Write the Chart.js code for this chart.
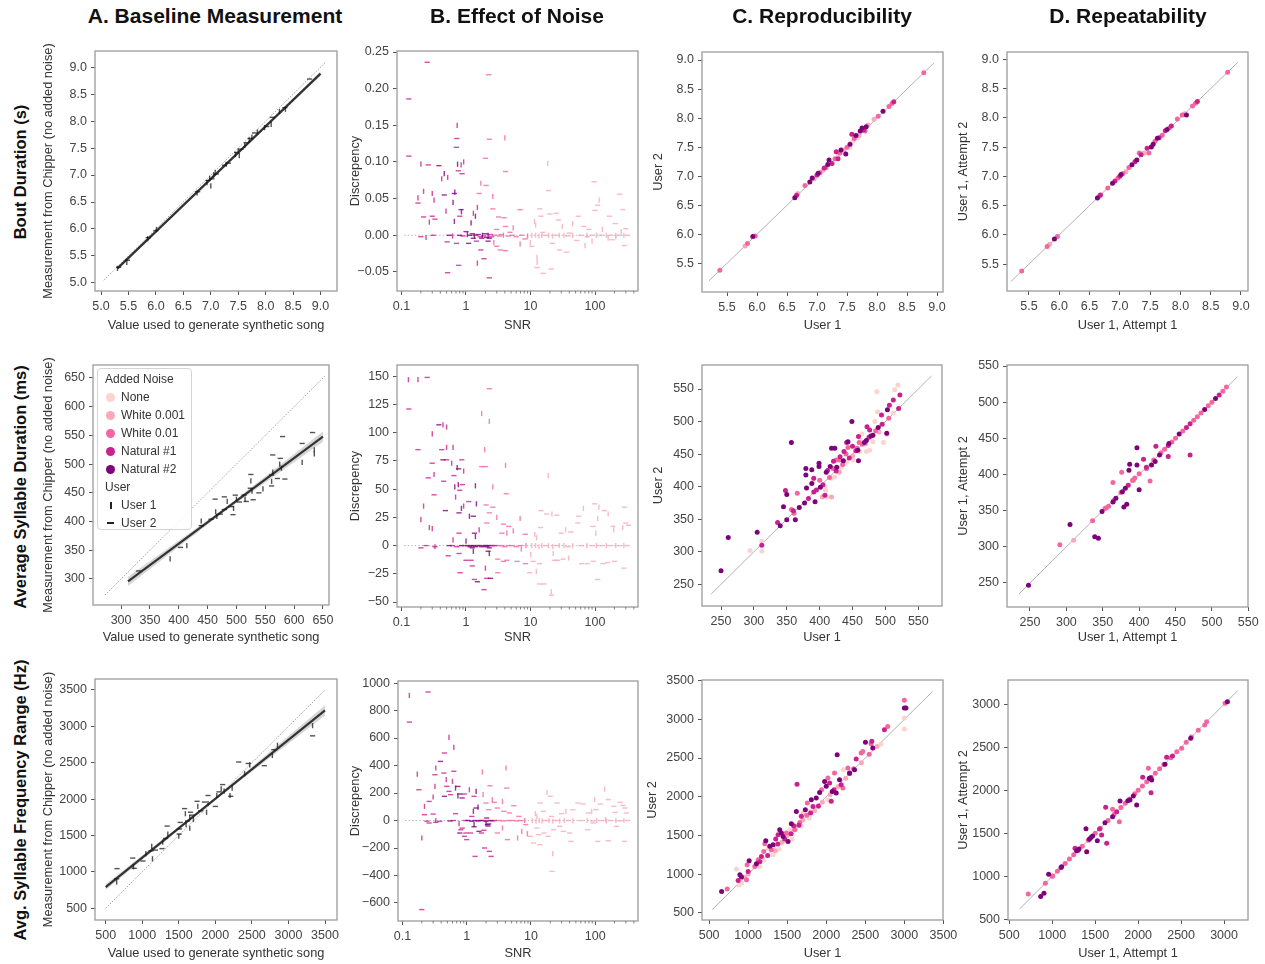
<!DOCTYPE html>
<html>
<head>
<meta charset="utf-8">
<title>Chipper validation</title>
<script src="https://cdn.jsdelivr.net/npm/chart.js@4.4.1/dist/chart.umd.min.js"></script>
<style>
  body { margin:0; width:1265px; height:964px; position:relative; overflow:hidden; background:#fff;
         font-family:"Liberation Sans", Arial, sans-serif; }
  canvas { position:absolute; }
  .colTitle { position:absolute; top:5px; font-size:21px; font-weight:bold; color:#111; line-height:22px;
              transform:translateX(-50%); white-space:nowrap; }
  .rowTitle { position:absolute; font-size:16.5px; font-weight:bold; color:#111; line-height:18px; white-space:nowrap;
              transform:translate(-50%,-50%) rotate(-90deg); }
  #legend { position:absolute; left:97px; top:368px; width:95px; height:162px; box-sizing:border-box;
            border:1px solid #d4d4d4; border-radius:4px; background:rgba(255,255,255,0.85);
            font-size:12px; color:#333; z-index:5; padding-top:1px; }
  #legend .h { height:18px; line-height:18px; padding-left:7px; }
  #legend .i { height:18px; line-height:18px; padding-left:23px; position:relative; }
  #legend .dot { position:absolute; left:8px; top:4.5px; width:9px; height:9px; border-radius:50%; }
  #legend .u1 { position:absolute; left:11.5px; top:5.5px; width:2px; height:7px; background:#222; }
  #legend .u2 { position:absolute; left:9px; top:8px; width:7px; height:2px; background:#222; }
</style>
</head>
<body>
<div id="legend"></div>
<script>
Chart.defaults.font.family = '"Liberation Sans", Arial, sans-serif';
Chart.defaults.font.size = 12;
Chart.defaults.color = '#444';

// ---- categories ----
const colTitles = ['A. Baseline Measurement', 'B. Effect of Noise', 'C. Reproducibility', 'D. Repeatability'];
const rowTitles = ['Bout Duration (s)', 'Average Syllable Duration (ms)', 'Avg. Syllable Frequency Range (Hz)'];
const noiseNames = ['None', 'White 0.001', 'White 0.01', 'Natural #1', 'Natural #2'];
const noiseColors = ['#fcd3cf', '#f9a9b9', '#f466a0', '#c9218d', '#7e037b'];
const userNames = ['User 1', 'User 2'];

// ---- tick labels ----
const boutTicks = [5.0, 5.5, 6.0, 6.5, 7.0, 7.5, 8.0, 8.5, 9.0];
const boutReproTicks = [5.5, 6.0, 6.5, 7.0, 7.5, 8.0, 8.5, 9.0];
const boutDiscTicks = [-0.05, 0.00, 0.05, 0.10, 0.15, 0.20, 0.25];
const durTicks = [300, 350, 400, 450, 500, 550, 600, 650];
const durReproTicks = [250, 300, 350, 400, 450, 500, 550];
const durDiscTicks = [-50, -25, 0, 25, 50, 75, 100, 125, 150];
const freqTicks = [500, 1000, 1500, 2000, 2500, 3000, 3500];
const freqRepeatTicks = [500, 1000, 1500, 2000, 2500, 3000];
const freqDiscTicks = [-600, -400, -200, 0, 200, 400, 600, 800, 1000];
const snrTicks = [0.1, 1, 10, 100];
const snrMinor = [0.2, 0.3, 0.4, 0.5, 0.6, 0.7, 0.8, 0.9, 2, 3, 4, 5, 6, 7, 8, 9,
                  20, 30, 40, 50, 60, 70, 80, 90, 200, 300, 400];

// ---- A: baseline [true value, measured, user] ----
const boutBase = [[5.30,5.27,1],[5.32,5.29,2],[5.47,5.38,1],[5.48,5.42,2],[5.85,5.82,1],[5.86,5.84,2],[6.00,5.97,2],
  [6.01,5.99,1],[6.75,6.67,1],[6.76,6.69,2],[6.93,6.86,1],[6.95,6.90,2],[7.00,6.80,1],[6.98,6.94,1],[7.02,6.93,2],
  [7.05,7.00,1],[7.10,7.02,2],[7.08,7.05,1],[7.25,7.18,2],[7.28,7.20,1],[7.32,7.22,2],[7.45,7.38,1],[7.47,7.42,2],
  [7.50,7.45,1],[7.55,7.48,2],[7.52,7.36,1],[7.62,7.55,1],[7.65,7.60,2],[7.70,7.65,1],[7.72,7.68,2],[7.75,7.70,1],
  [7.80,7.78,2],[7.85,7.80,1],[7.98,7.88,1],[8.02,7.90,2],[8.10,7.94,1],[8.12,8.07,2],[8.25,8.18,1],[8.35,8.25,2],
  [8.36,8.22,1],[8.80,8.78,2]];
const durBase = [[330,314,2],[385,335,1],[403,355,2],[414,358,1],[439,393,2],[439,401,1],[456,404,2],[464,417,1],
  [463,439,2],[466,409,1],[472,413,2],[479,421,2],[479,443,2],[484,435,1],[491,426,2],[494,412,2],[495,423,1],
  [498,446,2],[500,439,1],[505,434,2],[513,446,2],[515,439,1],[517,435,2],[524,458,2],[525,471,1],[525,482,2],
  [527,453,1],[529,438,2],[539,450,2],[546,457,1],[561,481,2],[563,486,1],[563,516,2],[561,470,1],[561,462,2],
  [571,475,2],[575,500,1],[576,510,2],[578,493,1],[580,548,2],[584,474,2],[614,536,2],[614,503,1],[632,555,2],
  [635,525,1],[635,518,1]];
const freqBase = [[650,860,1],[650,905,2],[655,1045,2],[870,1190,2],[880,1070,1],[890,1050,2],[1010,1150,2],
  [1050,1250,1],[1120,1290,2],[1130,1350,1],[1140,1180,1],[1180,1300,2],[1270,1320,2],[1280,1410,1],[1320,1460,2],
  [1340,1630,2],[1350,1520,1],[1500,1490,1],[1505,1520,2],[1510,1590,2],[1520,1680,2],[1580,1870,2],[1590,1800,1],
  [1600,1650,1],[1620,1700,2],[1650,1750,1],[1650,1600,1],[1660,1820,2],[1680,1780,2],[1700,1720,1],[1750,1970,2],
  [1760,1900,1],[1800,1840,2],[1850,1960,2],[1880,1820,1],[1900,2050,2],[1900,1940,1],[2000,1900,2],[2020,2050,1],
  [2050,2100,2],[2080,2140,1],[2100,2200,2],[2120,2110,1],[2200,2050,1],[2210,2040,2],[2230,2150,1],[2320,2510,2],
  [2400,2350,1],[2450,2490,2],[2470,2470,1],[2670,2460,2],[2780,2600,1],[2800,2680,2],[2850,2740,1],[3330,2870,2],
  [3330,3010,1]];

// regression fits, confidence bands and identity lines
const boutFit = [[5.3,5.27],[9.0,8.88]];
const boutBandHi = [[5.3,5.30],[7.2,7.13],[9.0,8.92]];
const boutBandLo = [[5.3,5.24],[7.2,7.10],[9.0,8.84]];
const boutIdent = [[5.05,5.05],[9.1,9.1]];
const durFit = [[312,296],[650,548]];
const durBandHi = [[312,304],[480,424],[650,557]];
const durBandLo = [[312,288],[480,418],[650,539]];
const durIdent = [[272,272],[653,653]];
const freqFit = [[500,790],[3500,3220]];
const freqBandHi = [[500,830],[2000,2020],[3500,3290]];
const freqBandLo = [[500,750],[2000,1990],[3500,3150]];
const freqIdent = [[500,500],[3500,3500]];
const snrZero = [[0.11,0],[330,0]];

// ---- B: effect of noise [SNR, discrepancy, noise index, user] ----
const boutNoise = [
  [0.13,0.186,3,2],[0.13,0.108,3,2],[0.25,0.236,3,2],[0.2,0.097,3,1],[0.26,0.096,3,2],[0.38,0.095,4,2],[0.18,0.044,3,2],
  [0.18,0.051,3,1],[0.22,0.06,3,1],[0.22,0.025,3,2],[0.3,0.057,3,1],[0.32,0.048,3,1],[0.3,0.026,3,2],[0.27,0.018,3,1],
  [0.33,0.022,3,2],[0.42,0.077,3,1],[0.46,0.084,4,1],[0.52,0.079,3,1],[0.46,0.055,4,2],[0.49,0.033,3,1],[0.66,0.057,4,2],
  [0.67,0.059,4,1],[0.63,0.045,4,1],[0.73,0.15,3,1],[0.72,0.132,3,2],[0.71,0.12,3,2],[0.74,0.097,4,1],[0.76,0.088,3,2],
  [0.84,0.096,3,1],[0.87,0.084,3,2],[0.92,0.1,3,1],[0.66,0.019,4,1],[0.8,0.026,3,2],[0.84,0.035,4,2],[0.85,0.032,4,1],
  [0.71,-0.011,3,2],[0.51,-0.009,3,2],[0.52,-0.051,3,2],[0.77,-0.041,3,2],[1.0,0.005,4,2],[1.3,0.03,3,1],[1.4,0.026,4,1],
  [1.5,0.038,3,1],[1.2,0.017,4,1],[1.1,-0.011,4,2],[1.45,-0.008,3,2],[1.7,-0.02,3,2],[1.5,-0.038,3,1],[1.9,-0.032,3,2],
  [2.3,-0.058,3,2],[1.75,-0.004,4,2],[2.2,-0.008,4,2],[1.3,-0.004,4,2],
  [0.2,-0.002,3,2],[0.24,-0.003,3,1],[0.31,0.0,3,2],[0.55,0.0,4,2],[0.62,-0.001,3,1],[0.8,0.0,4,2],[0.9,-0.001,3,2],
  [1.05,0.001,4,1],[1.15,0.0,4,2],[1.25,0.002,4,2],[1.35,-0.001,4,1],[1.4,0.0,3,2],[1.55,0.001,4,2],[1.65,-0.002,3,2],
  [1.8,0.0,4,1],[1.9,-0.001,3,2],[2.0,0.002,4,2],[2.1,-0.003,4,2],[2.2,0.0,4,1],[2.3,-0.004,4,2],[2.4,0.001,3,2],[2.5,-0.002,3,2],
  [2.25,0.219,2,2],[2.3,0.131,2,2],[2.0,0.105,2,2],[4.0,0.133,2,1],[4.1,0.087,2,2],[1.7,0.071,2,1],[2.05,0.068,2,2],
  [2.6,0.053,2,1],[2.6,0.036,2,2],[1.6,0.057,2,2],[3.2,0.025,2,2],[3.9,0.024,2,2],[3.0,0.008,2,2],[3.5,0.001,2,2],
  [4.1,0.012,2,2],[4.8,0.004,2,2],[5.4,0.01,2,1],[6.9,0.035,2,2],[7.3,0.0,2,2],[8.2,-0.005,2,2],[6.9,-0.012,2,1],
  [3.0,-0.015,2,2],[3.4,-0.02,2,2],[4.1,-0.021,2,2],[2.7,-0.01,2,1],[2.8,0.0,2,2],[3.3,-0.001,2,2],[3.8,0.0,2,1],
  [4.5,-0.001,2,2],[5.2,0.0,2,2],[6.0,-0.002,2,2],[9.0,-0.001,2,1],
  [13.9,0.036,1,2],[19,0.061,1,2],[18.5,0.098,1,1],[14.5,0.026,1,2],[11.5,0.019,1,1],[12,0.014,1,1],[15.6,0.004,1,2],
  [20,0.029,1,2],[25,0.03,1,2],[27,0.021,1,2],[31,0.012,1,1],[10.5,-0.015,1,2],[9.9,-0.01,1,1],[12.6,-0.03,1,1],
  [12.7,-0.037,1,1],[12.6,-0.044,1,2],[15.7,-0.052,1,2],[21,-0.046,1,2],[21.8,-0.011,1,2],[28,-0.02,1,2],[36,-0.023,1,2],
  [40,0.003,1,2],[55,0.026,1,2],[67,0.012,1,2],[80,0.008,1,2],[97,0.073,1,2],[116,0.048,1,1],[110,0.041,1,2],
  [100,0.034,1,2],[130,0.008,1,1],[167,0.026,1,2],[206,0.016,1,2],[240,0.056,1,2],[270,0.035,1,2],[300,0.009,1,2],
  [285,-0.014,1,2],[184,-0.006,1,2],[76,-0.002,1,2],[52,-0.007,1,2],[70,-0.014,1,1],[160,-0.004,1,1],[210,-0.002,1,1],
  [45,0.016,1,1],[255,0.005,1,1],[90,-0.008,1,1],
  [10.5,0,1,1],[12,0,1,1],[13.5,-0.001,1,1],[15,0,1,1],[17,0,1,2],[19,0,1,1],[22,-0.001,1,1],[25,0,1,2],[28,0,1,1],
  [33,0,1,1],[38,-0.001,1,2],[45,0,1,1],[60,0,1,2],[75,0,1,1],[90,0,1,2],[105,0,1,1],[125,0,1,2],[150,0,1,1],
  [175,0,1,2],[210,0,1,1],[240,0,1,2],[280,0,1,1],[320,0,1,2]];
const durNoise = [
  [0.128,147,3,1],[0.18,147,3,1],[0.25,149,3,2],[0.13,121,3,2],[0.18,85,3,2],[0.2,23,3,1],[0.2,-2,3,2],[0.22,35,3,1],
  [0.26,60,3,2],[0.27,16,3,1],[0.3,99,3,1],[0.3,73,3,2],[0.32,63,3,1],[0.32,45,3,2],[0.3,15,3,1],[0.33,-1,3,2],
  [0.38,107,4,2],[0.44,107,3,1],[0.5,105,3,1],[0.42,85,3,2],[0.5,87,3,1],[0.44,76,4,2],[0.5,76,3,2],[0.45,57,3,2],
  [0.48,31,4,2],[0.53,-9,3,2],[0.63,87,3,1],[0.6,73,3,1],[0.65,62,3,2],[0.67,52,4,1],[0.69,43,3,1],[0.73,69,4,1],
  [0.76,54,4,1],[0.8,49,3,2],[0.77,68,4,2],[0.86,76,3,2],[0.92,66,3,1],[0.88,54,3,2],[0.78,29,4,2],[0.92,35,3,1],
  [0.85,33,4,1],[0.63,5,3,1],[0.78,11,3,2],[0.81,-24,3,2],[0.78,-7,3,2],[1.0,4,4,1],[1.1,39,3,2],[1.13,26,4,1],
  [1.3,26,4,2],[1.4,53,4,1],[1.45,37,4,1],[1.35,11,4,2],[1.4,8,4,1],[1.6,14,3,1],[1.2,-13,3,2],[1.35,-30,3,2],
  [1.5,-32,4,2],[1.0,-13,3,2],[1.25,-18,3,2],[1.9,-39,3,2],[2.1,-29,3,2],[2.4,-29,4,2],[2.0,-20,3,1],[2.2,-5,4,2],
  [2.3,-7,4,1],[1.3,-5,4,1],[1.25,-2,4,2],
  [0.24,0,3,2],[0.33,-1,3,1],[0.55,0,4,2],[0.62,0,3,2],[0.72,-1,3,2],[0.85,0,4,2],[0.95,0,3,2],[1.05,0,4,2],
  [1.15,-1,4,2],[1.2,0,4,2],[1.3,0,4,2],[1.4,-1,4,2],[1.5,0,3,2],[1.6,0,4,2],[1.75,-1,4,2],[1.85,0,3,2],[2.0,0,4,2],
  [2.1,-1,4,2],[2.2,0,4,2],[2.3,-2,4,2],[2.45,0,3,2],[2.6,0,3,2],[2.8,0,3,2],
  [2.3,139,2,2],[1.75,117,2,1],[2.3,110,2,1],[1.75,70,2,2],[2.0,70,2,2],[1.95,85,2,1],[4.1,71,2,1],[4.2,46,2,2],
  [2.6,52,2,1],[2.05,36,2,2],[2.6,34,2,2],[3.0,25,2,1],[2.3,29,2,2],[2.1,20,2,2],[3.6,11,2,2],[4.3,11,2,1],
  [3.8,19,2,2],[4.6,17,2,2],[5.4,13,2,1],[6.9,24,2,1],[8.3,10,2,2],[3.1,-12,2,2],[3.8,-14,2,2],[4.3,-13,2,2],
  [6.2,-14,2,2],[7.2,-3,2,1],[3.1,-24,2,2],[8.3,-16,2,2],[3.2,0,2,2],[3.6,0,2,2],[4.0,-1,2,2],[4.6,0,2,2],
  [5.2,0,2,2],[6.0,-1,2,2],[7.0,0,2,2],[8.5,0,2,1],
  [14.5,31,1,2],[18.8,62,1,1],[17.8,28,1,2],[21.5,28,1,1],[25.5,27,1,2],[11.7,10,1,1],[12.4,7,1,1],[14.3,16,1,2],
  [30,11,1,2],[10.1,-8,1,1],[9.7,-24,1,2],[11,-14,1,2],[13.8,-16,1,2],[12.3,-23,1,1],[13.8,-34,1,2],[16.2,-34,1,2],
  [21,-41,1,1],[21.2,-44,1,2],[23.7,-13,1,2],[26.4,-13,1,2],[32,-12,1,2],[38.9,-11,1,1],[22.5,-7,1,1],[35,14,1,1],
  [42,12,1,2],[54,20,1,2],[56,26,1,2],[66,33,1,1],[98,37,1,2],[115,34,1,1],[110,24,1,1],[93,17,1,2],[103,11,1,1],
  [140,31,1,2],[160,28,1,1],[190,17,1,2],[195,14,1,1],[270,16,1,1],[285,34,1,2],[300,20,1,2],[330,18,1,2],
  [280,-20,1,2],[133,-16,1,2],[157,-15,1,2],[76,-16,1,2],[62,-16,1,2],[94,-14,1,2],[110,-30,1,2],[200,-14,1,2],
  [10.5,0,1,1],[12,0,1,1],[13.5,-1,1,1],[15,0,1,1],[17,0,1,2],[19,0,1,1],[22,-1,1,1],[25,0,1,2],[28,0,1,1],
  [33,0,1,1],[38,-1,1,2],[45,0,1,1],[60,0,1,2],[75,0,1,1],[90,0,1,2],[105,0,1,1],[125,0,1,2],[150,0,1,1],
  [175,0,1,2],[210,0,1,1],[240,0,1,2],[280,0,1,1],[320,0,1,2]];
const freqNoise = [
  [0.128,910,3,1],[0.128,716,3,2],[0.25,935,3,2],[0.17,338,3,1],[0.18,224,3,2],[0.2,-127,3,1],[0.2,-648,3,2],
  [0.22,42,3,2],[0.22,103,3,1],[0.26,139,3,2],[0.26,-18,3,2],[0.3,47,3,2],[0.3,171,3,1],[0.32,248,3,1],[0.33,382,3,1],
  [0.32,333,3,2],[0.33,-13,3,2],[0.39,430,4,2],[0.38,-6,3,2],[0.45,491,3,2],[0.44,345,3,2],[0.48,297,3,1],
  [0.49,249,3,2],[0.45,176,4,2],[0.53,605,3,1],[0.53,212,3,2],[0.56,188,3,2],[0.63,532,3,1],[0.63,358,3,2],
  [0.6,285,3,1],[0.67,236,4,1],[0.73,248,4,2],[0.67,50,3,2],[0.73,180,4,1],[0.78,193,4,2],[0.85,164,4,2],
  [0.92,193,3,2],[0.81,-67,3,2],[0.76,-23,3,1],[0.78,-91,4,2],[0.85,-55,3,2],[0.97,-91,3,2],[1.0,-139,3,2],
  [0.92,-115,3,2],[1.1,224,3,1],[1.3,176,3,2],[1.4,212,4,1],[1.27,67,4,1],[1.4,91,4,2],[1.5,98,4,1],[1.2,30,3,2],
  [1.3,-30,4,1],[1.35,-261,3,2],[1.15,-91,3,2],[1.55,-79,4,2],[1.7,-91,3,2],[1.85,-71,3,2],[1.9,-200,3,2],
  [2.1,-30,4,2],[2.25,-224,3,2],[2.4,-261,3,2],[2.0,-18,4,1],[2.05,18,4,2],[1.3,-45,4,2],[2.15,-40,4,2],[2.2,-25,4,2],
  [0.24,-5,3,2],[0.33,0,3,1],[0.55,-3,4,2],[0.62,0,3,2],[0.95,0,3,2],[1.05,0,4,2],[1.2,-5,4,2],[1.35,0,4,2],
  [1.5,-3,4,2],[1.65,0,4,2],[1.8,0,3,2],[2.0,-5,4,2],[2.3,0,4,2],[2.5,-3,3,2],[2.7,0,3,2],
  [1.8,188,2,1],[1.75,353,2,1],[2.0,127,2,2],[2.3,253,2,2],[2.5,152,2,1],[2.7,132,2,2],[2.2,79,2,2],[3.0,91,2,2],
  [3.8,67,2,2],[4.1,382,2,1],[4.2,236,2,2],[3.6,139,2,1],[4.6,55,2,2],[5.4,108,2,2],[6.5,30,2,2],[3.0,-91,2,2],
  [3.6,-55,2,1],[4.3,-139,2,2],[6.2,-127,2,1],[7.2,-79,2,1],[8.3,-30,2,2],[8.8,-96,2,1],[3.2,0,2,2],[3.7,-3,2,2],
  [4.4,0,2,2],[5.1,0,2,2],[6.0,-3,2,2],[7.0,0,2,2],[8.0,0,2,1],
  [13.9,127,1,2],[17.8,205,1,1],[20,176,1,2],[11.7,50,1,1],[12.4,30,1,1],[15.6,67,1,2],[21,30,1,2],[25.5,127,1,2],
  [30,50,1,2],[9.7,-115,1,2],[11,-164,1,2],[13.2,-103,1,2],[13.8,-176,1,2],[16,-91,1,2],[12.3,-55,1,2],
  [18.5,-115,1,2],[21.8,-241,1,1],[21.3,-370,1,2],[22.5,-67,1,2],[28,-42,1,2],[32,-79,1,2],[40,-91,1,2],
  [42,-152,1,2],[35,67,1,1],[45,79,1,2],[54,127,1,2],[65,120,1,2],[78,55,1,2],[98,152,1,1],[103,79,1,2],
  [120,120,1,2],[88,67,1,1],[140,229,1,1],[160,152,1,2],[195,103,1,2],[205,59,1,2],[245,132,1,2],[270,110,1,2],
  [290,91,1,2],[305,55,1,2],[110,-152,1,2],[160,-147,1,2],[215,-42,1,2],[285,-152,1,2],[76,-67,1,2],[93,-18,1,2],
  [145,6,1,1],
  [10.5,0,1,1],[12,-5,1,1],[13.5,0,1,1],[15,-3,1,1],[17,0,1,2],[19,0,1,1],[22,-5,1,1],[25,0,1,2],[28,-3,1,1],
  [33,0,1,1],[38,0,1,2],[45,-3,1,1],[60,0,1,2],[75,0,1,1],[90,-3,1,2],[105,0,1,1],[125,0,1,2],[150,-3,1,1],
  [175,0,1,2],[210,0,1,1],[240,-3,1,2],[280,0,1,1],[320,0,1,2]];

// ---- C: reproducibility [user 1, user 2, noise index] ----
const boutRepro = [[5.38,5.38,2],[5.80,5.80,1],[5.84,5.84,2],[5.93,5.96,4],[5.97,5.97,2],[6.63,6.63,4],[6.66,6.67,3],
  [6.68,6.70,1],[6.80,6.84,2],[6.88,6.90,4],[6.92,6.97,4],[6.95,6.95,1],[7.00,7.02,3],[7.02,7.05,4],[7.05,7.06,2],
  [7.10,7.10,1],[7.15,7.15,2],[7.18,7.20,4],[7.20,7.28,4],[7.25,7.22,3],[7.30,7.30,2],[7.32,7.42,3],[7.35,7.35,0],
  [7.38,7.40,2],[7.40,7.45,4],[7.45,7.45,1],[7.48,7.38,4],[7.50,7.50,2],[7.55,7.55,4],[7.58,7.72,3],[7.60,7.60,0],
  [7.62,7.65,2],[7.65,7.70,4],[7.70,7.70,1],[7.72,7.78,4],[7.75,7.83,4],[7.78,7.80,3],[7.80,7.78,2],[7.82,7.85,4],
  [7.85,7.88,1],[7.95,7.98,1],[8.02,8.03,2],[8.10,8.12,4],[8.20,8.20,2],[8.25,8.25,2],[8.28,8.28,3],[8.78,8.78,2],
  [7.40,7.42,0],[7.55,7.50,0],[6.98,6.99,0],[7.68,7.66,0],[7.12,7.14,3],[7.35,7.30,3]];
const durRepro = [[250,271,4],[261,322,4],[305,330,4],[294,302,0],[312,316,0],[312,301,0],[312,310,3],[340,340,4],
  [336,345,3],[348,394,3],[350,388,4],[345,369,4],[350,349,4],[357,468,4],[357,365,2],[361,359,2],[360,363,3],
  [363,349,4],[366,390,2],[369,368,4],[377,375,4],[379,428,4],[379,418,4],[380,398,4],[383,382,3],[388,426,4],
  [388,405,4],[391,413,3],[391,392,3],[393,377,4],[399,431,4],[399,436,4],[401,399,4],[390,408,0],[409,395,0],
  [408,387,3],[410,422,4],[412,425,3],[418,459,4],[416,431,4],[423,459,4],[421,439,3],[425,441,2],[430,441,2],
  [431,446,3],[437,454,3],[441,468,3],[443,469,4],[449,500,4],[443,460,2],[450,462,3],[459,477,3],[457,459,2],
  [459,440,4],[462,471,0],[464,481,0],[471,471,4],[472,492,3],[476,487,3],[481,479,4],[484,500,0],[487,546,0],
  [489,491,4],[488,515,0],[494,510,3],[497,468,0],[502,480,0],[502,482,4],[503,518,4],[506,525,3],[512,533,3],
  [514,549,0],[519,556,0],[522,541,3],[512,513,0],[481,469,0],[461,454,0],[471,454,0],[476,456,0],[451,441,0],
  [441,438,0],[428,426,0],[433,430,0],[418,413,0],[423,415,0],[408,400,0],[411,384,0],[418,384,1],[404,384,1],
  [395,395,3],[405,403,3],[415,414,2],[425,424,3],[435,434,2],[445,444,3],[455,455,3],[465,465,2],[475,476,3],
  [485,486,2],[495,496,3],[505,505,2],[520,520,3],[400,410,2],[420,428,2],[440,450,2],[460,468,2],[430,422,1],
  [450,447,1],[470,466,1],[490,484,1],[458,456,4],[468,468,4],[478,478,4],[426,430,4],[436,440,4]];
const freqRepro = [[660,776,4],[732,806,2],[851,1065,0],[872,918,3],[894,991,4],[915,961,4],[915,884,0],[979,927,2],
  [1000,1034,3],[1013,1172,4],[987,1121,2],[1085,1099,2],[1106,1134,4],[1128,1185,2],[1149,1099,0],[1170,1228,3],
  [1200,1293,2],[1226,1431,4],[1213,1392,2],[1255,1328,0],[1277,1358,4],[1298,1315,2],[1319,1379,4],[1353,1453,3],
  [1383,1509,3],[1404,1573,4],[1426,1530,4],[1447,1487,4],[1468,1453,3],[1489,1530,2],[1396,1323,0],[1319,1250,0],
  [1511,1422,4],[1532,1573,0],[1553,1651,4],[1583,1625,3],[1596,1573,2],[1617,1810,4],[1626,2160,3],[1660,1668,2],
  [1681,1746,3],[1702,1789,0],[1732,1832,4],[1757,1918,2],[1787,1810,0],[1809,1961,4],[1830,1875,3],[1872,1983,4],
  [1894,1866,0],[1915,2056,4],[1940,2091,2],[1979,2198,4],[2000,2134,4],[2021,2241,2],[2043,2177,3],[2064,1940,3],
  [2077,2069,4],[2106,2306,2],[2128,2047,4],[2140,2543,4],[2170,2220,4],[2191,2155,3],[2213,2112,2],[2221,2349,0],
  [2277,2371,2],[2298,2306,4],[2362,2349,4],[2383,2487,3],[2447,2565,2],[2468,2586,2],[2502,2703,4],[2574,2685,2],
  [2596,2629,4],[2583,2716,3],[2745,2866,3],[2787,2909,2],[3000,3246,2],[3000,3147,4],[3021,3147,4],[3000,3017,0],
  [3000,2875,0],
  [1000,1000,1],[1100,1110,1],[1200,1180,0],[1350,1300,1],[1450,1420,0],[1500,1500,1],[1600,1580,1],[1700,1700,1],
  [1750,1760,2],[1850,1820,1],[1950,1930,1],[2050,2030,1],[2150,2130,1],[2250,2240,1],[2350,2360,2],[2450,2440,1],
  [2550,2550,2],[2650,2650,1],[2700,2680,0],[1550,1520,3],[1650,1630,3],[1800,1790,3],[1900,1880,3],[2100,2090,3],
  [2300,2300,3],[1250,1240,3],[1150,1160,3],[950,960,1],[880,860,0],[1780,1720,0],[1560,1450,0],[1680,1620,0],
  [2020,1960,0],[1380,1390,3],[1430,1410,1]];

// ---- D: repeatability [attempt 1, attempt 2, noise index] ----
const boutRepeat = [[5.38,5.38,2],[5.80,5.80,2],[5.84,5.84,1],[5.92,5.93,4],[5.97,5.97,2],[6.63,6.63,4],[6.66,6.66,2],
  [6.68,6.68,3],[6.80,6.80,2],[6.88,6.88,4],[6.92,6.92,3],[6.97,6.97,2],[7.02,7.03,4],[7.05,7.05,2],[7.10,7.08,1],
  [7.15,7.15,2],[7.20,7.20,4],[7.28,7.28,4],[7.32,7.40,2],[7.35,7.37,3],[7.40,7.40,1],[7.45,7.48,3],[7.48,7.40,2],
  [7.52,7.50,4],[7.55,7.55,4],[7.58,7.60,2],[7.62,7.65,4],[7.70,7.70,2],[7.75,7.78,3],[7.78,7.80,4],[7.82,7.83,2],
  [7.85,7.86,3],[7.95,7.98,2],[8.03,8.05,2],[8.10,8.05,4],[8.07,8.07,1],[8.20,8.20,2],[8.25,8.25,2],[8.28,8.28,3],
  [8.78,8.78,2],[7.25,7.25,3],[7.65,7.66,3],[7.00,7.00,3]];
const durRepeat = [[248,247,4],[291,303,2],[305,331,4],[310,309,1],[336,336,2],[339,314,4],[344,312,4],[349,349,4],
  [353,353,2],[358,356,2],[364,362,4],[364,389,2],[368,367,4],[376,403,2],[377,376,4],[379,355,4],[381,381,4],
  [383,359,4],[386,406,4],[387,414,4],[391,392,2],[394,395,2],[397,413,4],[397,437,4],[400,379,4],[406,421,3],
  [410,408,2],[415,391,2],[417,413,4],[423,439,3],[422,418,4],[428,427,4],[440,425,3],[441,443,4],[470,427,3],
  [355,354,2],[365,364,2],[375,375,2],[385,385,3],[392,392,2],[400,401,2],[410,410,3],[420,420,2],[430,430,2],
  [440,440,3],[450,450,2],[455,456,4],[460,460,2],[470,470,3],[475,475,2],[480,480,2],[490,490,4],[500,500,2],
  [505,505,4],[515,515,2],[520,521,2],[445,445,2],[435,435,2],[465,465,3],[485,485,2],[495,495,2],[510,510,3]];
const freqRepeat = [[721,795,2],[865,764,4],[904,802,4],[958,1023,4],[1005,1004,2],[1109,1112,4],[1265,1326,3],
  [1284,1298,4],[1311,1318,4],[1393,1554,4],[1401,1287,4],[1432,1430,4],[1470,1469,4],[1525,1415,4],[1575,1481,3],
  [1622,1802,3],[1634,1384,3],[1614,1624,4],[1703,1779,2],[1703,1694,4],[1781,1636,2],[1789,1876,4],[1905,1887,4],
  [1944,1934,4],[1983,1829,4],[2053,2151,3],[2119,2256,2],[2130,2140,4],[2150,1973,3],[2158,2120,4],[2313,2302,4],
  [2332,2384,3],[2612,2605,4],[2507,2488,2],[2798,2798,2],[2775,2760,2],[3039,3031,4],[3012,3012,2],
  [920,920,2],[1000,1000,2],[1060,1060,2],[1150,1150,2],[1200,1200,2],[1250,1250,2],[1350,1350,2],[1420,1420,2],
  [1500,1500,2],[1560,1560,2],[1650,1650,2],[1720,1720,2],[1800,1800,2],[1850,1850,2],[1900,1900,2],[1960,1960,2],
  [2000,2000,2],[2050,2050,2],[2100,2100,2],[2200,2200,2],[2250,2250,2],[2300,2300,2],[2380,2380,2],[2450,2450,2],
  [2560,2560,2],[2620,2620,2],[2700,2700,2],[1100,1100,3],[1300,1300,3],[1550,1550,3],[1750,1750,3],[2150,2150,3],
  [2400,2400,3],[1450,1450,4],[1880,1880,4],[2140,2140,4]];
const boutIdentC = [[5.2,5.2],[8.95,8.95]];
const durIdentC = [[235,235],[570,570]];
const freqIdentC = [[540,540],[3360,3360]];
const durIdentD = [[235,235],[535,535]];
const freqIdentD = [[620,620],[3160,3160]];

// ---------------------------------------------------------------
function rgba(hex, a) {
  const n = parseInt(hex.slice(1), 16);
  return 'rgba(' + (n >> 16 & 255) + ',' + (n >> 8 & 255) + ',' + (n & 255) + ',' + a + ')';
}
function fmt(dec) {
  return v => Number(v).toFixed(dec).replace('-', '\u2212');
}
const fmtLog = v => String(v);
const xy = pts => pts.map(p => ({x: p[0], y: p[1]}));

function lineSet(pts, color, width, dash) {
  return {type: 'line', data: xy(pts), borderColor: color, borderWidth: width, borderDash: dash || [],
          pointRadius: 0, fill: false, tension: 0, showLine: true};
}
function dashSet(pts, color, userCol) {
  return {type: 'scatter', data: pts.map(p => ({x: p[0], y: p[1], u: p[userCol]})),
          pointStyle: 'line', pointRadius: 2.6, pointBorderWidth: 1.4, pointBorderColor: color,
          pointBackgroundColor: color, pointRotation: c => (c.raw && c.raw.u === 1) ? 90 : 0};
}
function dotSet(pts, color) {
  return {type: 'scatter', data: xy(pts), pointStyle: 'circle', pointRadius: 2.5, pointBorderWidth: 0,
          pointBackgroundColor: color};
}

function baseSets(data, fit, hi, lo, ident) {
  return [
    lineSet(ident, '#8a8a8a', 0.8, [1.5, 1.5]),
    {type: 'line', data: xy(hi), borderWidth: 0, pointRadius: 0, fill: false},
    {type: 'line', data: xy(lo), borderWidth: 0, pointRadius: 0, fill: '-1', backgroundColor: 'rgba(0,0,0,0.16)'},
    lineSet(fit, '#333', 2.2),
    dashSet(data, rgba('#1a1a1a', 0.75), 2)
  ];
}
function noiseSets(data) {
  const sets = [lineSet(snrZero, '#b0b0b0', 0.9, [1.5, 2])];
  for (let k = 1; k < noiseNames.length; k++) {
    sets.push(dashSet(data.filter(p => p[2] === k), rgba(noiseColors[k], 0.8), 3));
  }
  return sets;
}
function agreeSets(data, ident) {
  const sets = [lineSet(ident, '#a8a8a8', 0.9)];
  noiseColors.forEach((c, k) => sets.push(dotSet(data.filter(p => p[2] === k), c)));
  return sets;
}

const framePlugin = {
  id: 'frame',
  afterDatasetsDraw(chart) {
    const {ctx, chartArea: a} = chart;
    ctx.save();
    ctx.strokeStyle = '#9c9c9c';
    ctx.lineWidth = 1.3;
    ctx.strokeRect(a.left, a.top, a.right - a.left, a.bottom - a.top);
    ctx.restore();
  }
};
const minorTickPlugin = {
  id: 'minorTicks',
  afterDraw(chart, args, opts) {
    if (!opts.values) return;
    const s = chart.scales.x, ctx = chart.ctx, b = chart.chartArea.bottom;
    ctx.save();
    ctx.strokeStyle = '#666';
    ctx.lineWidth = 0.8;
    opts.values.forEach(v => {
      if (v < s.min || v > s.max) return;
      const px = s.getPixelForValue(v);
      ctx.beginPath(); ctx.moveTo(px, b); ctx.lineTo(px, b + 2.5); ctx.stroke();
    });
    ctx.restore();
  }
};

const PAD_T = 12, PAD_R = 20, X_H = 44;
const TITLE_SIZE = 12.8;

function axis(o) {
  return {
    type: o.log ? 'logarithmic' : 'linear',
    min: o.range[0], max: o.range[1], bounds: 'data',
    afterBuildTicks: s => { s.ticks = o.ticks.map(v => ({value: v})); },
    afterFit: s => { if (o.isX) s.height = o.size; else s.width = o.size; },
    grid: {display: true, drawOnChartArea: false, drawTicks: true, tickLength: 4, tickColor: '#555', tickWidth: 1},
    border: {display: false},
    ticks: {autoSkip: false, maxRotation: 0, minRotation: 0, padding: 4, color: '#444', font: {size: 12.5}, callback: o.fmt},
    title: {display: true, text: o.title, color: '#333', font: {size: TITLE_SIZE},
            padding: o.isX ? {top: 0, bottom: o.tpad} : {top: o.tpad, bottom: 0}}
  };
}

function drawPanel(p) {
  const [l, t, r, b] = p.box;
  const w = r - p.left + PAD_R, h = PAD_T + (b - t) + X_H;
  const half = TITLE_SIZE * 1.2 / 2;
  const cv = document.createElement('canvas');
  cv.width = w; cv.height = h;
  cv.style.left = p.left + 'px';
  cv.style.top = (t - PAD_T) + 'px';
  cv.style.width = w + 'px';
  cv.style.height = h + 'px';
  document.body.appendChild(cv);
  p.sets.forEach((s, i) => { s.order = -i; });
  new Chart(cv, {
    type: 'scatter',
    data: {datasets: p.sets},
    options: {
      responsive: false, animation: false, events: [], devicePixelRatio: 1,
      layout: {padding: {left: 0, top: PAD_T, right: PAD_R, bottom: 0}},
      plugins: {legend: {display: false}, tooltip: {enabled: false}, minorTicks: {values: p.log ? snrMinor : null}},
      scales: {
        x: axis({isX: true, log: p.log, range: p.xr, ticks: p.xt, fmt: p.log ? fmtLog : fmt(p.xd), size: X_H,
                 title: p.xTitle, tpad: b + X_H - half - p.xTitleY}),
        y: axis({isX: false, range: p.yr, ticks: p.yt, fmt: fmt(p.yd), size: l - p.left,
                 title: p.yTitle, tpad: p.yTitleX - p.left - half})
      }
    },
    plugins: [framePlugin, minorTickPlugin]
  });
}

const baseX = 'Value used to generate synthetic song';
const baseY = 'Measurement from Chipper (no added noise)';
const panels = [
  // row 1: bout duration
  {box: [95, 51, 337, 291], left: 30, xr: [4.89, 9.3], yr: [4.85, 9.3], xt: boutTicks, yt: boutTicks, xd: 1, yd: 1,
   xTitle: baseX, yTitle: baseY, xTitleY: 325, yTitleX: 48,
   sets: baseSets(boutBase, boutFit, boutBandHi, boutBandLo, boutIdent)},
  {box: [397, 51, 638, 291], left: 340, log: true, xr: [0.0852, 464], yr: [-0.076, 0.2514], xt: snrTicks, yt: boutDiscTicks,
   yd: 2, xTitle: 'SNR', yTitle: 'Discrepency', xTitleY: 325, yTitleX: 355, sets: noiseSets(boutNoise)},
  {box: [702, 52, 943, 292], left: 643, xr: [5.083, 9.1], yr: [5.006, 9.138], xt: boutReproTicks, yt: boutReproTicks,
   xd: 1, yd: 1, xTitle: 'User 1', yTitle: 'User 2', xTitleY: 325, yTitleX: 658, sets: agreeSets(boutRepro, boutIdentC)},
  {box: [1007, 52, 1248, 291], left: 948, xr: [5.137, 9.116], yr: [5.04, 9.125], xt: boutReproTicks, yt: boutReproTicks,
   xd: 1, yd: 1, xTitle: 'User 1, Attempt 1', yTitle: 'User 1, Attempt 2', xTitleY: 325, yTitleX: 963,
   sets: agreeSets(boutRepeat, boutIdentC)},
  // row 2: average syllable duration
  {box: [93, 365, 329, 605], left: 30, xr: [251.3, 660.5], yr: [254.7, 672.6], xt: durTicks, yt: durTicks, xd: 0, yd: 0,
   xTitle: baseX, yTitle: baseY, xTitleY: 637, yTitleX: 48,
   sets: baseSets(durBase, durFit, durBandHi, durBandLo, durIdent)},
  {box: [397, 365, 638, 607], left: 340, log: true, xr: [0.0852, 464], yr: [-54.4, 160], xt: snrTicks, yt: durDiscTicks,
   yd: 0, xTitle: 'SNR', yTitle: 'Discrepency', xTitleY: 637, yTitleX: 355, sets: noiseSets(durNoise)},
  {box: [702, 365, 942, 606], left: 643, xr: [221.1, 586], yr: [216.7, 586.9], xt: durReproTicks, yt: durReproTicks,
   xd: 0, yd: 0, xTitle: 'User 1', yTitle: 'User 2', xTitleY: 637, yTitleX: 658, sets: agreeSets(durRepro, durIdentC)},
  {box: [1007, 365, 1248, 607], left: 948, xr: [218.4, 549.6], yr: [216.8, 551.4], xt: durReproTicks, yt: durReproTicks,
   xd: 0, yd: 0, xTitle: 'User 1, Attempt 1', yTitle: 'User 1, Attempt 2', xTitleY: 637, yTitleX: 963,
   sets: agreeSets(durRepeat, durIdentD)},
  // row 3: syllable frequency range
  {box: [95, 679, 337, 920], left: 30, xr: [354, 3664], yr: [339, 3651], xt: freqTicks, yt: freqTicks, xd: 0, yd: 0,
   xTitle: baseX, yTitle: baseY, xTitleY: 953, yTitleX: 48,
   sets: baseSets(freqBase, freqFit, freqBandHi, freqBandLo, freqIdent)},
  {box: [398, 681, 638, 921], left: 340, log: true, xr: [0.0852, 464], yr: [-731, 1015], xt: snrTicks, yt: freqDiscTicks,
   yd: 0, xTitle: 'SNR', yTitle: 'Discrepency', xTitleY: 953, yTitleX: 355, sets: noiseSets(freqNoise)},
  {box: [702, 680, 943, 920], left: 643, xr: [409, 3495], yr: [406, 3509], xt: freqTicks, yt: freqTicks,
   xd: 0, yd: 0, xTitle: 'User 1', yTitle: 'User 2', xTitleY: 953, yTitleX: 652, sets: agreeSets(freqRepro, freqIdentC)},
  {box: [1008, 680, 1248, 920], left: 948, xr: [485, 3279], yr: [492, 3283], xt: freqRepeatTicks, yt: freqRepeatTicks,
   xd: 0, yd: 0, xTitle: 'User 1, Attempt 1', yTitle: 'User 1, Attempt 2', xTitleY: 953, yTitleX: 963,
   sets: agreeSets(freqRepeat, freqIdentD)}
];
panels.forEach(drawPanel);

// titles
const colCenters = [215, 517, 822, 1128];
colTitles.forEach((txt, i) => {
  const d = document.createElement('div');
  d.className = 'colTitle'; d.textContent = txt; d.style.left = colCenters[i] + 'px';
  document.body.appendChild(d);
});
const rowCenters = [172, 487, 800];
rowTitles.forEach((txt, i) => {
  const d = document.createElement('div');
  d.className = 'rowTitle'; d.textContent = txt;
  d.style.left = '20px'; d.style.top = rowCenters[i] + 'px';
  document.body.appendChild(d);
});

// legend for the A2 panel
const leg = document.getElementById('legend');
let html = '<div class="h">Added Noise</div>';
noiseNames.forEach((n, i) => {
  html += '<div class="i"><span class="dot" style="background:' + noiseColors[i] + '"></span>' + n + '</div>';
});
html += '<div class="h">User</div>';
userNames.forEach((n, i) => {
  html += '<div class="i"><span class="u' + (i + 1) + '"></span>' + n + '</div>';
});
leg.innerHTML = html;
</script>
</body>
</html>
